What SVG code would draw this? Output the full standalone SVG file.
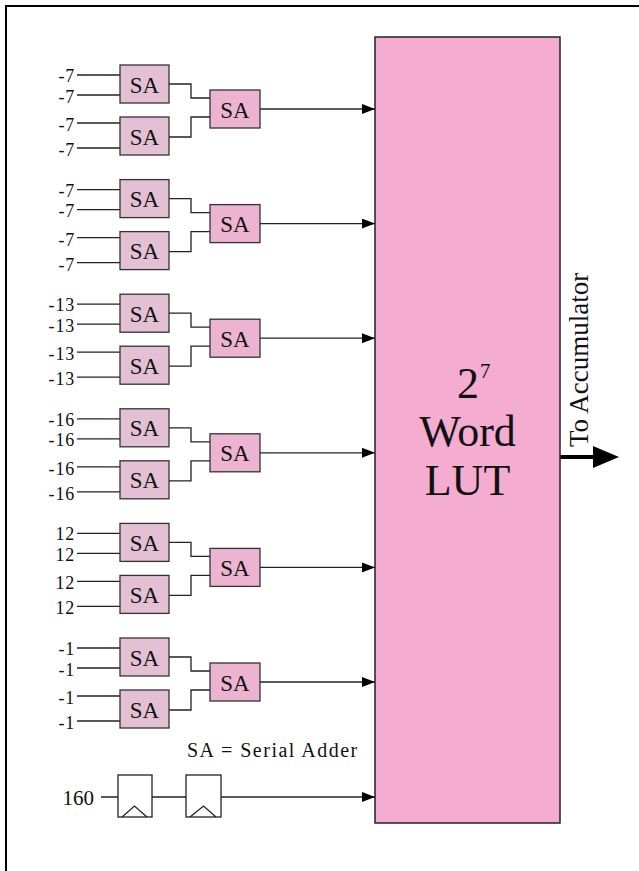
<svg xmlns="http://www.w3.org/2000/svg" width="639" height="871" viewBox="0 0 639 871">
<defs>
<marker id="arr" markerWidth="13" markerHeight="10" refX="13" refY="5" orient="auto" markerUnits="userSpaceOnUse">
<path d="M0,0 L13,5 L0,10 Z" fill="#000"/>
</marker>
<style>
.t{font-family:"Liberation Serif","Times New Roman",serif;fill:#111}
.lbl{font-size:18px;text-anchor:end;letter-spacing:0.8px}
.sa{font-size:23px;text-anchor:middle}
.b1{fill:#e4c0d4;stroke:#333;stroke-width:1.3}
.b2{fill:#ecb4d0;stroke:#333;stroke-width:1.3}
.ln{fill:none;stroke:#222;stroke-width:1.3}
.ff{fill:#fff;stroke:#222;stroke-width:1.3}
</style>
</defs>
<rect width="639" height="871" fill="#fff"/>
<path d="M6,871 V6 H639" fill="none" stroke="#000" stroke-width="2"/>

<g id="connectors">
<path class="ln" d="M77,75H120 M77,95H120 M77,123H120 M77,148H120"/>
<polyline class="ln" points="169,84 191,84 191,98 210,98"/>
<polyline class="ln" points="169,137 191,137 191,117 210,117"/>
<line class="ln" x1="260" y1="109" x2="375" y2="109" marker-end="url(#arr)"/>
<path class="ln" d="M77,189.6H120 M77,209.6H120 M77,237.6H120 M77,262.6H120"/>
<polyline class="ln" points="169,198.6 191,198.6 191,212.6 210,212.6"/>
<polyline class="ln" points="169,251.6 191,251.6 191,231.6 210,231.6"/>
<line class="ln" x1="260" y1="223.6" x2="375" y2="223.6" marker-end="url(#arr)"/>
<path class="ln" d="M77,304.2H120 M77,324.2H120 M77,352.2H120 M77,377.2H120"/>
<polyline class="ln" points="169,313.2 191,313.2 191,327.2 210,327.2"/>
<polyline class="ln" points="169,366.2 191,366.2 191,346.2 210,346.2"/>
<line class="ln" x1="260" y1="338.2" x2="375" y2="338.2" marker-end="url(#arr)"/>
<path class="ln" d="M77,418.8H120 M77,438.8H120 M77,466.8H120 M77,491.8H120"/>
<polyline class="ln" points="169,427.8 191,427.8 191,441.8 210,441.8"/>
<polyline class="ln" points="169,480.8 191,480.8 191,460.8 210,460.8"/>
<line class="ln" x1="260" y1="452.8" x2="375" y2="452.8" marker-end="url(#arr)"/>
<path class="ln" d="M77,533.4H120 M77,553.4H120 M77,581.4H120 M77,606.4H120"/>
<polyline class="ln" points="169,542.4 191,542.4 191,556.4 210,556.4"/>
<polyline class="ln" points="169,595.4 191,595.4 191,575.4 210,575.4"/>
<line class="ln" x1="260" y1="567.4" x2="375" y2="567.4" marker-end="url(#arr)"/>
<path class="ln" d="M77,648H120 M77,668H120 M77,696H120 M77,721H120"/>
<polyline class="ln" points="169,657 191,657 191,671 210,671"/>
<polyline class="ln" points="169,710 191,710 191,690 210,690"/>
<line class="ln" x1="260" y1="682" x2="375" y2="682" marker-end="url(#arr)"/>
<path class="ln" d="M101,797H118 M152,797H186"/>
<line class="ln" x1="221" y1="797" x2="375" y2="797" marker-end="url(#arr)"/>
<line x1="560" y1="457" x2="596" y2="457" stroke="#000" stroke-width="4"/>
<polygon points="593,446 619,457 593,468" fill="#000"/>
</g>

<g id="labels">
<text class="t lbl" x="75" y="82">-7</text>
<text class="t lbl" x="75" y="102.5">-7</text>
<text class="t lbl" x="75" y="131">-7</text>
<text class="t lbl" x="75" y="156">-7</text>
<text class="t lbl" x="75" y="196.6">-7</text>
<text class="t lbl" x="75" y="217.1">-7</text>
<text class="t lbl" x="75" y="245.6">-7</text>
<text class="t lbl" x="75" y="270.6">-7</text>
<text class="t lbl" x="75" y="311.2">-13</text>
<text class="t lbl" x="75" y="331.7">-13</text>
<text class="t lbl" x="75" y="360.2">-13</text>
<text class="t lbl" x="75" y="385.2">-13</text>
<text class="t lbl" x="75" y="425.8">-16</text>
<text class="t lbl" x="75" y="446.3">-16</text>
<text class="t lbl" x="75" y="474.8">-16</text>
<text class="t lbl" x="75" y="499.8">-16</text>
<text class="t lbl" x="75" y="540.4">12</text>
<text class="t lbl" x="75" y="560.9">12</text>
<text class="t lbl" x="75" y="589.4">12</text>
<text class="t lbl" x="75" y="614.4">12</text>
<text class="t lbl" x="75" y="655">-1</text>
<text class="t lbl" x="75" y="675.5">-1</text>
<text class="t lbl" x="75" y="704">-1</text>
<text class="t lbl" x="75" y="729">-1</text>
<text class="t" x="94" y="805" font-size="21" text-anchor="end">160</text>
<text class="t" x="187" y="757" font-size="20" letter-spacing="1.5">SA = Serial Adder</text>
<text class="t" transform="translate(588,447) rotate(-90)" font-size="27">To Accumulator</text>
</g>

<g id="sa-g0">
<g id="sa0a"><rect class="b1" x="120" y="65" width="49" height="38"/><text class="t sa" x="144.5" y="92.5">SA</text></g>
<g id="sa0b"><rect class="b1" x="120" y="117" width="49" height="38"/><text class="t sa" x="144.5" y="144.5">SA</text></g>
<g id="sa0c"><rect class="b2" x="210" y="90" width="50" height="38"/><text class="t sa" x="235" y="117.5">SA</text></g>
</g>
<g id="sa-g1">
<g id="sa1a"><rect class="b1" x="120" y="179.6" width="49" height="38"/><text class="t sa" x="144.5" y="207.1">SA</text></g>
<g id="sa1b"><rect class="b1" x="120" y="231.6" width="49" height="38"/><text class="t sa" x="144.5" y="259.1">SA</text></g>
<g id="sa1c"><rect class="b2" x="210" y="204.6" width="50" height="38"/><text class="t sa" x="235" y="232.1">SA</text></g>
</g>
<g id="sa-g2">
<g id="sa2a"><rect class="b1" x="120" y="294.2" width="49" height="38"/><text class="t sa" x="144.5" y="321.7">SA</text></g>
<g id="sa2b"><rect class="b1" x="120" y="346.2" width="49" height="38"/><text class="t sa" x="144.5" y="373.7">SA</text></g>
<g id="sa2c"><rect class="b2" x="210" y="319.2" width="50" height="38"/><text class="t sa" x="235" y="346.7">SA</text></g>
</g>
<g id="sa-g3">
<g id="sa3a"><rect class="b1" x="120" y="408.8" width="49" height="38"/><text class="t sa" x="144.5" y="436.3">SA</text></g>
<g id="sa3b"><rect class="b1" x="120" y="460.8" width="49" height="38"/><text class="t sa" x="144.5" y="488.3">SA</text></g>
<g id="sa3c"><rect class="b2" x="210" y="433.8" width="50" height="38"/><text class="t sa" x="235" y="461.3">SA</text></g>
</g>
<g id="sa-g4">
<g id="sa4a"><rect class="b1" x="120" y="523.4" width="49" height="38"/><text class="t sa" x="144.5" y="550.9">SA</text></g>
<g id="sa4b"><rect class="b1" x="120" y="575.4" width="49" height="38"/><text class="t sa" x="144.5" y="602.9">SA</text></g>
<g id="sa4c"><rect class="b2" x="210" y="548.4" width="50" height="38"/><text class="t sa" x="235" y="575.9">SA</text></g>
</g>
<g id="sa-g5">
<g id="sa5a"><rect class="b1" x="120" y="638" width="49" height="38"/><text class="t sa" x="144.5" y="665.5">SA</text></g>
<g id="sa5b"><rect class="b1" x="120" y="690" width="49" height="38"/><text class="t sa" x="144.5" y="717.5">SA</text></g>
<g id="sa5c"><rect class="b2" x="210" y="663" width="50" height="38"/><text class="t sa" x="235" y="690.5">SA</text></g>
</g>

<g id="ff1">
<rect class="ff" x="118" y="775" width="34" height="42"/>
<polyline class="ln" points="122,817 134.5,806 147,817"/>
</g>
<g id="ff2">
<rect class="ff" x="186" y="775" width="35" height="42"/>
<polyline class="ln" points="190,817 203.5,806 216,817"/>
</g>

<g id="lut">
<rect x="375" y="37" width="185" height="786" fill="#f4acd0" stroke="#222" stroke-width="1.5"/>
<text class="t" x="457" y="398" font-size="44">2</text>
<text class="t" x="480" y="378" font-size="21">7</text>
<text class="t" x="467.5" y="446" font-size="44" text-anchor="middle">Word</text>
<text class="t" x="467.5" y="495" font-size="44" text-anchor="middle">LUT</text>
</g>
</svg>
